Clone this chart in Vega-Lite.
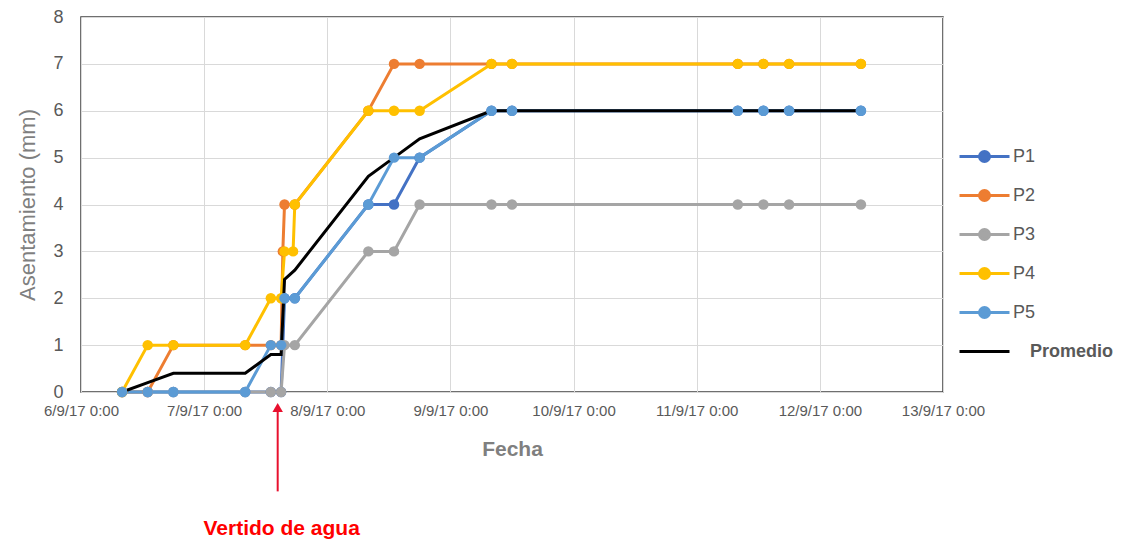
{
  "$schema": "https://vega.github.io/schema/vega-lite/v6.json",
  "width": 862,
  "height": 375,
  "autosize": {"type": "none"},
  "padding": {"left": 81, "top": 17, "right": 194, "bottom": 152},
  "background": "white",
  "config": {
    "font": "Liberation Sans",
    "view": {"stroke": "#404040", "strokeWidth": 1.5},
    "axis": {"gridColor": "#d9d9d9", "gridWidth": 1, "ticks": false, "domain": false, "labelColor": "#595959", "titleColor": "#7f7f7f"}
  },
  "datasets": {
    "series": [
      {"serie": "P1", "fecha": "2017-09-06 08:00", "valor": 0},
      {"serie": "P1", "fecha": "2017-09-06 13:00", "valor": 0},
      {"serie": "P1", "fecha": "2017-09-06 18:00", "valor": 0},
      {"serie": "P1", "fecha": "2017-09-07 08:00", "valor": 0},
      {"serie": "P1", "fecha": "2017-09-07 13:00", "valor": 0},
      {"serie": "P1", "fecha": "2017-09-07 15:00", "valor": 0},
      {"serie": "P1", "fecha": "2017-09-07 15:40", "valor": 2},
      {"serie": "P1", "fecha": "2017-09-07 17:40", "valor": 2},
      {"serie": "P1", "fecha": "2017-09-08 08:00", "valor": 4},
      {"serie": "P1", "fecha": "2017-09-08 13:00", "valor": 4},
      {"serie": "P1", "fecha": "2017-09-08 18:00", "valor": 5},
      {"serie": "P1", "fecha": "2017-09-09 08:00", "valor": 6},
      {"serie": "P1", "fecha": "2017-09-09 12:00", "valor": 6},
      {"serie": "P1", "fecha": "2017-09-11 08:00", "valor": 6},
      {"serie": "P1", "fecha": "2017-09-11 13:00", "valor": 6},
      {"serie": "P1", "fecha": "2017-09-11 18:00", "valor": 6},
      {"serie": "P1", "fecha": "2017-09-12 08:00", "valor": 6},

      {"serie": "P2", "fecha": "2017-09-06 08:00", "valor": 0},
      {"serie": "P2", "fecha": "2017-09-06 13:00", "valor": 0},
      {"serie": "P2", "fecha": "2017-09-06 18:00", "valor": 1},
      {"serie": "P2", "fecha": "2017-09-07 08:00", "valor": 1},
      {"serie": "P2", "fecha": "2017-09-07 13:00", "valor": 1},
      {"serie": "P2", "fecha": "2017-09-07 15:00", "valor": 1},
      {"serie": "P2", "fecha": "2017-09-07 15:20", "valor": 3},
      {"serie": "P2", "fecha": "2017-09-07 15:40", "valor": 4},
      {"serie": "P2", "fecha": "2017-09-07 17:40", "valor": 4},
      {"serie": "P2", "fecha": "2017-09-08 08:00", "valor": 6},
      {"serie": "P2", "fecha": "2017-09-08 13:00", "valor": 7},
      {"serie": "P2", "fecha": "2017-09-08 18:00", "valor": 7},
      {"serie": "P2", "fecha": "2017-09-09 08:00", "valor": 7},
      {"serie": "P2", "fecha": "2017-09-09 12:00", "valor": 7},
      {"serie": "P2", "fecha": "2017-09-11 08:00", "valor": 7},
      {"serie": "P2", "fecha": "2017-09-11 13:00", "valor": 7},
      {"serie": "P2", "fecha": "2017-09-11 18:00", "valor": 7},
      {"serie": "P2", "fecha": "2017-09-12 08:00", "valor": 7},

      {"serie": "P3", "fecha": "2017-09-06 08:00", "valor": 0},
      {"serie": "P3", "fecha": "2017-09-06 13:00", "valor": 0},
      {"serie": "P3", "fecha": "2017-09-06 18:00", "valor": 0},
      {"serie": "P3", "fecha": "2017-09-07 08:00", "valor": 0},
      {"serie": "P3", "fecha": "2017-09-07 13:00", "valor": 0},
      {"serie": "P3", "fecha": "2017-09-07 15:00", "valor": 0},
      {"serie": "P3", "fecha": "2017-09-07 15:40", "valor": 1},
      {"serie": "P3", "fecha": "2017-09-07 17:40", "valor": 1},
      {"serie": "P3", "fecha": "2017-09-08 08:00", "valor": 3},
      {"serie": "P3", "fecha": "2017-09-08 13:00", "valor": 3},
      {"serie": "P3", "fecha": "2017-09-08 18:00", "valor": 4},
      {"serie": "P3", "fecha": "2017-09-09 08:00", "valor": 4},
      {"serie": "P3", "fecha": "2017-09-09 12:00", "valor": 4},
      {"serie": "P3", "fecha": "2017-09-11 08:00", "valor": 4},
      {"serie": "P3", "fecha": "2017-09-11 13:00", "valor": 4},
      {"serie": "P3", "fecha": "2017-09-11 18:00", "valor": 4},
      {"serie": "P3", "fecha": "2017-09-12 08:00", "valor": 4},

      {"serie": "P4", "fecha": "2017-09-06 08:00", "valor": 0},
      {"serie": "P4", "fecha": "2017-09-06 13:00", "valor": 1},
      {"serie": "P4", "fecha": "2017-09-06 18:00", "valor": 1},
      {"serie": "P4", "fecha": "2017-09-07 08:00", "valor": 1},
      {"serie": "P4", "fecha": "2017-09-07 13:00", "valor": 2},
      {"serie": "P4", "fecha": "2017-09-07 15:00", "valor": 2},
      {"serie": "P4", "fecha": "2017-09-07 15:40", "valor": 3},
      {"serie": "P4", "fecha": "2017-09-07 17:20", "valor": 3},
      {"serie": "P4", "fecha": "2017-09-07 17:40", "valor": 4},
      {"serie": "P4", "fecha": "2017-09-08 08:00", "valor": 6},
      {"serie": "P4", "fecha": "2017-09-08 13:00", "valor": 6},
      {"serie": "P4", "fecha": "2017-09-08 18:00", "valor": 6},
      {"serie": "P4", "fecha": "2017-09-09 08:00", "valor": 7},
      {"serie": "P4", "fecha": "2017-09-09 12:00", "valor": 7},
      {"serie": "P4", "fecha": "2017-09-11 08:00", "valor": 7},
      {"serie": "P4", "fecha": "2017-09-11 13:00", "valor": 7},
      {"serie": "P4", "fecha": "2017-09-11 18:00", "valor": 7},
      {"serie": "P4", "fecha": "2017-09-12 08:00", "valor": 7},

      {"serie": "P5", "fecha": "2017-09-06 08:00", "valor": 0},
      {"serie": "P5", "fecha": "2017-09-06 13:00", "valor": 0},
      {"serie": "P5", "fecha": "2017-09-06 18:00", "valor": 0},
      {"serie": "P5", "fecha": "2017-09-07 08:00", "valor": 0},
      {"serie": "P5", "fecha": "2017-09-07 13:00", "valor": 1},
      {"serie": "P5", "fecha": "2017-09-07 15:00", "valor": 1},
      {"serie": "P5", "fecha": "2017-09-07 15:40", "valor": 2},
      {"serie": "P5", "fecha": "2017-09-07 17:40", "valor": 2},
      {"serie": "P5", "fecha": "2017-09-08 08:00", "valor": 4},
      {"serie": "P5", "fecha": "2017-09-08 13:00", "valor": 5},
      {"serie": "P5", "fecha": "2017-09-08 18:00", "valor": 5},
      {"serie": "P5", "fecha": "2017-09-09 08:00", "valor": 6},
      {"serie": "P5", "fecha": "2017-09-09 12:00", "valor": 6},
      {"serie": "P5", "fecha": "2017-09-11 08:00", "valor": 6},
      {"serie": "P5", "fecha": "2017-09-11 13:00", "valor": 6},
      {"serie": "P5", "fecha": "2017-09-11 18:00", "valor": 6},
      {"serie": "P5", "fecha": "2017-09-12 08:00", "valor": 6},

      {"serie": "Promedio", "fecha": "2017-09-06 08:00", "valor": 0},
      {"serie": "Promedio", "fecha": "2017-09-06 13:00", "valor": 0.2},
      {"serie": "Promedio", "fecha": "2017-09-06 18:00", "valor": 0.4},
      {"serie": "Promedio", "fecha": "2017-09-07 08:00", "valor": 0.4},
      {"serie": "Promedio", "fecha": "2017-09-07 13:00", "valor": 0.8},
      {"serie": "Promedio", "fecha": "2017-09-07 15:00", "valor": 0.8},
      {"serie": "Promedio", "fecha": "2017-09-07 15:40", "valor": 2.4},
      {"serie": "Promedio", "fecha": "2017-09-07 17:40", "valor": 2.6},
      {"serie": "Promedio", "fecha": "2017-09-08 08:00", "valor": 4.6},
      {"serie": "Promedio", "fecha": "2017-09-08 13:00", "valor": 5.0},
      {"serie": "Promedio", "fecha": "2017-09-08 18:00", "valor": 5.4},
      {"serie": "Promedio", "fecha": "2017-09-09 08:00", "valor": 6},
      {"serie": "Promedio", "fecha": "2017-09-09 12:00", "valor": 6},
      {"serie": "Promedio", "fecha": "2017-09-11 08:00", "valor": 6},
      {"serie": "Promedio", "fecha": "2017-09-11 13:00", "valor": 6},
      {"serie": "Promedio", "fecha": "2017-09-11 18:00", "valor": 6},
      {"serie": "Promedio", "fecha": "2017-09-12 08:00", "valor": 6}
    ],
    "nota": [
      {"fecha": "2017-09-07 14:20", "texto": "Vertido de agua"}
    ]
  },
  "layer": [
    {
      "data": {"name": "series"},
      "mark": {"type": "line", "strokeWidth": 3},
      "encoding": {
        "x": {
          "field": "fecha", "type": "temporal",
          "scale": {"domain": ["2017-09-06 00:00", "2017-09-13 00:00"]},
          "axis": {
            "title": "Fecha", "format": "%-d/%-m/%y %-H:%M",
            "tickCount": {"interval": "day", "step": 1},
            "labelFontSize": 15, "labelPadding": 11, "labelFlush": false, "labelOverlap": false,
            "titleFontSize": 21, "titleFontWeight": "bold", "titlePadding": 20
          }
        },
        "y": {
          "field": "valor", "type": "quantitative",
          "scale": {"domain": [0, 8], "nice": false},
          "axis": {
            "title": "Asentamiento (mm)", "values": [0,1,2,3,4,5,6,7,8],
            "labelFontSize": 18, "labelPadding": 18, "labelOverlap": false, "labelFlush": false,
            "titleFontSize": 22, "titleFontWeight": "normal", "titlePadding": 13
          }
        },
        "color": {
          "field": "serie", "type": "nominal",
          "scale": {
            "domain": ["P1", "P2", "P3", "P4", "P5", "Promedio"],
            "range": ["#4472C4", "#ED7D31", "#A5A5A5", "#FFC000", "#5B9BD5", "#000000"]
          },
          "legend": {
            "title": null, "orient": "none", "legendX": 877, "legendY": 113,
            "symbolSize": 2500, "symbolStrokeWidth": 3,
            "labelFontSize": 18, "labelColor": "#595959", "labelOffset": 2,
            "rowPadding": 1,
            "encode": {
              "symbols": {"update": {
                "shape": {"signal": "datum.value === 'Promedio' ? 'M-1,0H1' : 'M-1,0H1M-0.2,0A0.2,0.2,0,1,1,0.2,0A0.2,0.2,0,1,1,-0.2,0Z'"},
                "fill": {"scale": "color", "field": "value"},
                "stroke": {"scale": "color", "field": "value"}
              }},
              "labels": {"update": {
                "fontWeight": {"signal": "datum.value === 'Promedio' ? 'bold' : 'normal'"},
                "dx": {"signal": "datum.value === 'Promedio' ? 17 : 0"}
              }}
            }
          }
        },
        "order": {"field": "fecha", "type": "temporal"}
      }
    },
    {
      "data": {"name": "series"},
      "transform": [{"filter": "datum.serie !== 'Promedio'"}],
      "mark": {"type": "circle", "size": 110, "opacity": 1},
      "encoding": {
        "x": {"field": "fecha", "type": "temporal"},
        "y": {"field": "valor", "type": "quantitative"},
        "color": {"field": "serie", "type": "nominal", "legend": null}
      }
    },
    {
      "data": {"name": "nota"},
      "mark": {"type": "rule", "color": "#E8102E", "strokeWidth": 2, "clip": false},
      "encoding": {
        "x": {"field": "fecha", "type": "temporal"},
        "y": {"datum": -0.4},
        "y2": {"datum": -2.12}
      }
    },
    {
      "data": {"name": "nota"},
      "mark": {"type": "point", "shape": "triangle-up", "filled": true, "color": "#E8102E", "size": 110, "opacity": 1, "clip": false},
      "encoding": {
        "x": {"field": "fecha", "type": "temporal"},
        "y": {"datum": -0.33}
      }
    },
    {
      "data": {"name": "nota"},
      "mark": {"type": "text", "color": "#FF0000", "fontSize": 21, "fontWeight": "bold", "baseline": "middle", "align": "center", "dx": 4, "clip": false},
      "encoding": {
        "x": {"field": "fecha", "type": "temporal"},
        "y": {"datum": -2.93},
        "text": {"field": "texto"}
      }
    }
  ]
}
